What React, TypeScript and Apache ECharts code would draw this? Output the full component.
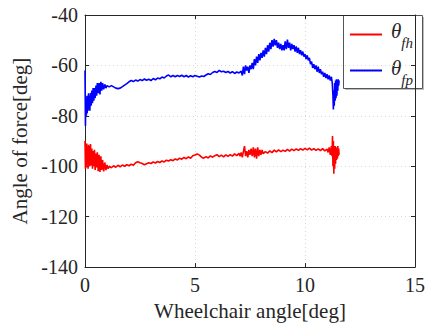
import React, { useEffect, useRef } from "react";
import * as echarts from "echarts";

const xTicks = [0, 5, 10, 15];
const yTicks = [-140, -120, -100, -80, -60, -40];

const blueX = [
  0.0, 0.02, 0.04, 0.06, 0.08, 0.1, 0.12, 0.14, 0.16, 0.18, 0.2, 0.22, 0.25, 0.28, 0.31, 0.34, 0.37, 0.4, 0.43, 0.46,
  0.5, 0.53, 0.56, 0.6, 0.64, 0.68, 0.72, 0.76, 0.8, 0.85, 0.9, 0.95, 1.0, 1.1, 1.2, 1.3, 1.4, 1.5, 1.6, 1.7,
  1.8, 1.9, 2.0, 2.1, 2.2, 2.3, 2.4, 2.5, 2.6, 2.7, 2.8, 2.9, 3.0, 3.1, 3.2, 3.3, 3.4, 3.5, 3.6, 3.7,
  3.8, 3.9, 4.0, 4.1, 4.2, 4.3, 4.4, 4.5, 4.6, 4.7, 4.8, 4.9, 5.0, 5.1, 5.2, 5.3, 5.4, 5.5, 5.6, 5.7,
  5.8, 5.9, 6.0, 6.1, 6.2, 6.3, 6.4, 6.5, 6.6, 6.7, 6.8, 6.9, 7.0, 7.1, 7.15, 7.2, 7.25, 7.3, 7.35, 7.4,
  7.45, 7.5, 7.55, 7.6, 7.65, 7.7, 7.75, 7.8, 7.85, 7.9, 7.95, 8.0, 8.05, 8.1, 8.15, 8.2, 8.25, 8.3, 8.35, 8.4,
  8.45, 8.5, 8.55, 8.6, 8.65, 8.7, 8.75, 8.8, 8.85, 8.9, 8.95, 9.0, 9.05, 9.1, 9.15, 9.2, 9.25, 9.3, 9.35, 9.4,
  9.45, 9.5, 9.55, 9.6, 9.65, 9.7, 9.75, 9.8, 9.85, 9.9, 9.95, 10.0, 10.05, 10.1, 10.15, 10.2, 10.25, 10.3, 10.35, 10.4,
  10.45, 10.5, 10.55, 10.6, 10.65, 10.7, 10.75, 10.8, 10.85, 10.9, 10.95, 11.0, 11.05, 11.1, 11.15, 11.2, 11.24, 11.27, 11.29, 11.31,
  11.33, 11.35, 11.37, 11.39, 11.41, 11.43, 11.45, 11.47, 11.49, 11.51, 11.53, 11.55,
];
const blueY = [
  -62, -84, -72, -80, -73, -79, -72, -78, -71, -77, -72, -78, -71, -76, -70, -75, -69, -74, -69, -73,
  -68, -72, -67, -71, -67, -71.5, -66.5, -70, -67, -69.5, -67.5, -69, -68, -68.5, -68, -68.5, -69, -69.2, -69, -68.4,
  -67.8, -67.2, -66.5, -66, -66.4, -65.8, -66.2, -65.6, -66, -65.4, -65.9, -65.5, -66, -65.2, -65.7, -65, -65.3, -64.6, -65, -64.2,
  -63.8, -64.5, -64, -64.5, -64, -64.4, -63.9, -64.5, -64, -64.6, -64.1, -64.5, -64, -64.3, -64.6, -64.2, -64.4, -63.8, -63.3, -63.6,
  -62.8, -62.4, -62.8, -62, -62.5, -62.3, -62.8, -62.4, -63, -62.5, -63.2, -62.6, -63, -62.3, -64, -60.5, -63.5, -60, -62, -60.5,
  -63, -60, -61.5, -59, -61.5, -57.5, -60, -56.5, -59, -55.5, -58, -55, -57, -54, -56.5, -53, -55.5, -52, -54.5, -51,
  -53.5, -50, -52.5, -49.5, -52, -50, -53, -51, -53.5, -51.5, -54, -52, -54, -50.5, -53.5, -49.8, -53, -51, -54, -51.5,
  -53.5, -52, -54.5, -52.5, -55, -53, -55.5, -54, -56, -54.5, -56.5, -55.5, -57.5, -56, -58, -57, -59.5, -58.5, -61, -59.5,
  -61.5, -60, -62.5, -60.5, -63, -61.5, -63.5, -62.5, -64.5, -63, -65, -63.5, -65.5, -64, -66, -64.5, -67, -72, -77.5, -70,
  -76, -67, -74, -66, -73, -65.5, -72, -66, -70, -65.5, -68, -66,
];

const redX = [
  0.0, 0.02, 0.04, 0.06, 0.08, 0.1, 0.12, 0.14, 0.16, 0.18, 0.2, 0.22, 0.25, 0.28, 0.31, 0.34, 0.37, 0.4, 0.43, 0.46,
  0.5, 0.53, 0.56, 0.6, 0.64, 0.68, 0.72, 0.76, 0.8, 0.85, 0.9, 0.95, 1.0, 1.05, 1.1, 1.2, 1.3, 1.4, 1.5, 1.6,
  1.7, 1.8, 1.9, 2.0, 2.1, 2.2, 2.3, 2.4, 2.5, 2.6, 2.7, 2.8, 2.9, 3.0, 3.1, 3.2, 3.3, 3.4, 3.5, 3.6,
  3.7, 3.8, 3.9, 4.0, 4.1, 4.2, 4.3, 4.4, 4.5, 4.6, 4.7, 4.8, 4.9, 5.0, 5.1, 5.2, 5.3, 5.4, 5.5, 5.6,
  5.7, 5.8, 5.9, 6.0, 6.1, 6.2, 6.3, 6.4, 6.5, 6.6, 6.7, 6.8, 6.9, 7.0, 7.05, 7.1, 7.15, 7.2, 7.25, 7.3,
  7.35, 7.4, 7.45, 7.5, 7.55, 7.6, 7.65, 7.7, 7.75, 7.8, 7.85, 7.9, 7.95, 8.0, 8.05, 8.1, 8.2, 8.3, 8.4, 8.5,
  8.6, 8.7, 8.8, 8.9, 9.0, 9.1, 9.2, 9.3, 9.4, 9.5, 9.6, 9.7, 9.8, 9.9, 10.0, 10.1, 10.2, 10.3, 10.4, 10.5,
  10.6, 10.7, 10.8, 10.9, 11.0, 11.05, 11.1, 11.15, 11.2, 11.23, 11.25, 11.27, 11.29, 11.31, 11.33, 11.35, 11.37, 11.39, 11.41, 11.43,
  11.45, 11.47, 11.49, 11.51, 11.53, 11.55,
];
const redY = [
  -90, -101, -92, -100.5, -91, -99, -92.5, -101, -91.5, -99.5, -92, -100, -91.2, -99.7, -93, -101, -94, -100, -93.5, -101.5,
  -95, -100.5, -94.5, -102, -95.5, -102.3, -96, -101.5, -97.5, -102, -98.5, -101.5, -99.5, -101, -100, -100.6, -99.8, -100.4, -99.6, -100.2,
  -99.5, -100, -99.4, -99.8, -99.2, -99.6, -98.6, -98.2, -98.6, -98.9, -99.4, -99, -98.6, -98.9, -98.3, -98.7, -98.1, -98.5, -97.9, -98.3,
  -97.6, -97.9, -97.4, -97.8, -97.1, -97.5, -96.8, -97.2, -96.5, -97, -96.3, -96.8, -95.8, -95.5, -95.1, -95.6, -96.4, -96.8, -96.2, -96.7,
  -95.9, -96.4, -95.8, -95.4, -96.2, -95.6, -96.3, -95.5, -96.1, -95.4, -96, -95.1, -95.8, -94.9, -96, -94.5, -96.5, -94.2, -92, -96,
  -94, -96.5, -93.5, -95.5, -93, -96, -92.5, -96.5, -93, -97, -92.5, -96, -93.5, -95.5, -93.5, -95, -94.2, -94.8, -93.9, -94.6,
  -93.6, -94.3, -93.5, -94.2, -93.6, -94.1, -93.3, -94, -93.2, -93.8, -93.1, -93.7, -93, -93.6, -92.9, -93.5, -92.8, -93.6, -93, -93.7,
  -93.1, -93.8, -93, -93.9, -93.2, -94.5, -92.5, -95.5, -92, -96, -88, -100, -90, -103, -92, -101, -92, -99, -92.5, -97.5,
  -93, -97, -92, -96, -93, -95.5,
];

const FONT = "Liberation Serif";
const INK = "#262626";

export default function App() {
  const ref = useRef<HTMLDivElement>(null);
  useEffect(() => {
    document.body.style.margin = "0";
    const chart = echarts.init(ref.current!, null, { renderer: "svg" });
    const gridL = 85, gridT = 15, gridW = 330, gridH = 254;
    const lineCommon = { show: true, onZero: false, lineStyle: { color: INK, width: 1 } };
    const tickCommon = { show: true, inside: true, length: 4, lineStyle: { color: INK } };
    const labelCommon = { show: true, fontFamily: FONT, fontSize: 20, color: INK };
    const gridLine = { show: true, lineStyle: { color: "#d9d9d9", type: [1, 3], width: 1 } };
    chart.setOption({
      animation: false,
      backgroundColor: "#ffffff",
      textStyle: { fontFamily: FONT },
      grid: { left: gridL, top: gridT, width: gridW, height: gridH, containLabel: false },
      xAxis: [
        {
          type: "value",
          min: xTicks[0],
          max: xTicks[xTicks.length - 1],
          interval: 5,
          position: "bottom",
          name: "Wheelchair angle[deg]",
          nameLocation: "middle",
          nameGap: 28,
          nameTextStyle: { fontFamily: FONT, fontSize: 21, color: INK },
          axisLine: lineCommon,
          axisTick: tickCommon,
          axisLabel: { ...labelCommon, margin: 8 },
          splitLine: gridLine,
        },
        {
          type: "value",
          min: xTicks[0],
          max: xTicks[xTicks.length - 1],
          interval: 5,
          position: "top",
          axisLine: lineCommon,
          axisTick: tickCommon,
          axisLabel: { show: false },
          splitLine: { show: false },
        },
      ],
      yAxis: [
        {
          type: "value",
          min: yTicks[0],
          max: yTicks[yTicks.length - 1],
          interval: 20,
          position: "left",
          name: "Angle of force[deg]",
          nameLocation: "middle",
          nameRotate: 90,
          nameGap: 48,
          nameTextStyle: { fontFamily: FONT, fontSize: 21, color: INK },
          axisLine: lineCommon,
          axisTick: tickCommon,
          axisLabel: { ...labelCommon, margin: 7 },
          splitLine: gridLine,
        },
        {
          type: "value",
          min: yTicks[0],
          max: yTicks[yTicks.length - 1],
          interval: 20,
          position: "right",
          axisLine: lineCommon,
          axisTick: tickCommon,
          axisLabel: { show: false },
          splitLine: { show: false },
        },
      ],
      series: [
        {
          name: "θfh",
          type: "line",
          data: redX.map((x, i) => [x, redY[i]]),
          showSymbol: false,
          symbol: "none",
          lineStyle: { color: "#ff0000", width: 1.6 },
          itemStyle: { color: "#ff0000" },
          z: 3,
        },
        {
          name: "θfp",
          type: "line",
          data: blueX.map((x, i) => [x, blueY[i]]),
          showSymbol: false,
          symbol: "none",
          lineStyle: { color: "#0000ff", width: 1.6 },
          itemStyle: { color: "#0000ff" },
          z: 3,
        },
      ],
      graphic: [
        {
          type: "group",
          z: 100,
          children: [
            { type: "rect", shape: { x: 345, y: 17, width: 79, height: 73 }, style: { fill: "#bdbdbd" } },
            { type: "rect", shape: { x: 343.5, y: 15.5, width: 79, height: 73 }, style: { fill: "#ffffff", stroke: "#555555", lineWidth: 1 } },
            { type: "line", shape: { x1: 350, y1: 34.5, x2: 382, y2: 34.5 }, style: { stroke: "#ff0000", lineWidth: 2 } },
            { type: "line", shape: { x1: 350, y1: 70.5, x2: 382, y2: 70.5 }, style: { stroke: "#0000ff", lineWidth: 2 } },
            {
              type: "text",
              x: 391,
              y: 31,
              style: {
                text: "{t|θ}{s|fh}",
                verticalAlign: "middle",
                rich: {
                  t: { fontFamily: FONT, fontStyle: "italic", fontSize: 21, fill: INK, lineHeight: 21 },
                  s: { fontFamily: FONT, fontStyle: "italic", fontSize: 15, fill: INK, padding: [24, 0, 0, 0] },
                },
              },
            },
            {
              type: "text",
              x: 391,
              y: 68,
              style: {
                text: "{t|θ}{s|fp}",
                verticalAlign: "middle",
                rich: {
                  t: { fontFamily: FONT, fontStyle: "italic", fontSize: 21, fill: INK, lineHeight: 21 },
                  s: { fontFamily: FONT, fontStyle: "italic", fontSize: 15, fill: INK, padding: [24, 0, 0, 0] },
                },
              },
            },
          ],
        },
      ],
    });
    return () => chart.dispose();
  }, []);
  return <div ref={ref} style={{ width: 430, height: 326 }} />;
}
